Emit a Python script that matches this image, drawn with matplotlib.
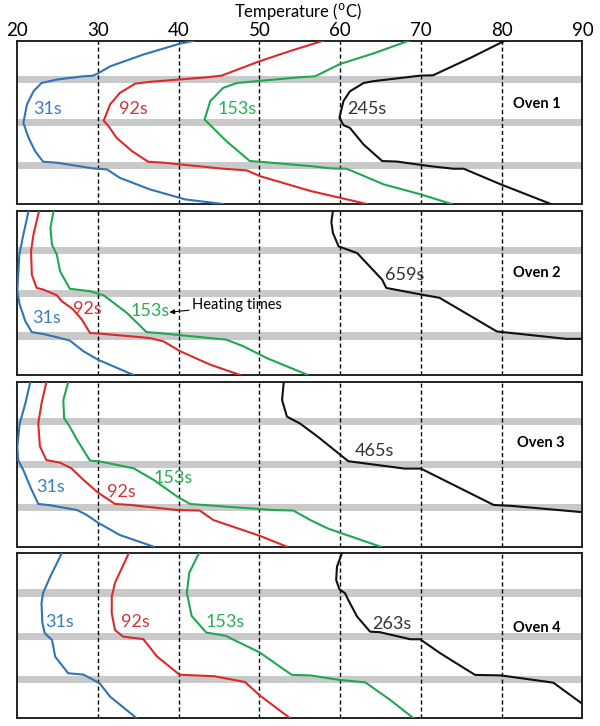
import matplotlib
matplotlib.use('Agg')
import matplotlib.pyplot as plt

plt.rcParams['font.family'] = ['Lato', 'DejaVu Sans']

# --- data: temperature (C) vs normalized depth (0 top .. 100 bottom) ---
TICKS = [20, 30, 40, 50, 60, 70, 80, 90]
BANDS = [24.0, 50.2, 76.3]          # grey layer positions
OVENS = ['Oven 1', 'Oven 2', 'Oven 3', 'Oven 4']

# Oven 1
o1_31_t = [41.9, 40.0, 35.6, 31.5, 30.0, 29.4, 28.0, 24.9, 23.0, 22.0, 21.2, 20.75, 21.4, 22.2, 23.2, 24.9, 29.4, 31.1, 32.7, 36.4, 40.8, 45.5]
o1_31_d = [0, 2, 8.5, 15.7, 20, 21.4, 21.9, 23.8, 25.9, 31, 39, 50.3, 59.5, 67.6, 74.1, 74.7, 78.2, 78.8, 84, 91, 97.2, 100]
o1_92_t = [57.9, 54.0, 50.0, 45.3, 43.5, 36.4, 34.6, 32.7, 31.5, 30.7, 31.3, 32.3, 34.2, 36.2, 38.1, 45.5, 48.4, 50.1, 56.3, 63.3]
o1_92_d = [0, 6, 12.6, 21.4, 22.4, 25.2, 26.3, 32, 39, 49, 52.3, 59.5, 67.6, 74.1, 74.7, 78.4, 79.4, 83, 92, 100]
o1_153_t = [68.5, 64.0, 60.0, 56.9, 54.9, 47.2, 45.5, 43.9, 43.2, 43.9, 45.9, 48.8, 50.5, 56.3, 58.9, 60.8, 65.4, 69.9, 73.8]
o1_153_d = [0, 8, 14.2, 21.8, 22.4, 25.9, 28.9, 37, 48.3, 51.7, 61.5, 73.7, 74.3, 76.8, 78.2, 78.4, 88, 94, 100]
o1_245_t = [80.4, 76.1, 71.5, 69.9, 64.1, 62.9, 61.2, 60.4, 59.9, 60.4, 61.2, 62.9, 65.2, 67.0, 71.1, 74.0, 75.3, 79.9, 86.1]
o1_245_d = [0, 10.6, 21.2, 21.4, 24.8, 25.9, 31, 37, 47.2, 51.7, 53.4, 63.6, 73.7, 74.0, 76.8, 78.4, 78.4, 88, 100]

# Oven 2
o2_31_t = [21.4, 20.75, 20.25, 20.0, 20.3, 21.0, 21.8, 23.2, 25.3, 26.5, 28.2, 30.0, 34.4]
o2_31_d = [0, 14.6, 26.8, 49, 57.2, 67.3, 73.9, 75, 77.5, 79, 85.6, 90.7, 100]
o2_92_t = [22.7, 22.0, 21.7, 21.8, 22.4, 23.2, 24.9, 25.5, 26.9, 28.0, 29.0, 30.7, 36.4, 38.1, 40.2, 43.9, 47.6]
o2_92_d = [0, 14.6, 24.7, 39, 47, 48, 51.5, 55, 60, 66.3, 74.4, 75, 77.5, 79.5, 85.6, 93.7, 100]
o2_153_t = [24.5, 24.1, 24.3, 24.9, 25.3, 26.5, 29.0, 30.7, 33.6, 36.0, 37.6, 45.9, 48.0, 50.9, 56.0]
o2_153_d = [0, 10.5, 20.7, 26.8, 36.9, 47.5, 49, 51.5, 62.3, 73.9, 74.5, 78.5, 82.5, 89.7, 100]
o2_659_t = [59.1, 58.9, 59.1, 59.8, 62.1, 65.2, 65.7, 70.0, 72.3, 79.4, 88.0, 90.0]
o2_659_d = [0, 7, 13.6, 21.7, 25.8, 42, 47, 51, 53, 73.5, 78, 78]

# Oven 3
o3_31_t = [21.6, 21.0, 20.3, 20.0, 20.1, 20.75, 21.6, 22.6, 24.1, 27.4, 28.6, 30.0, 32.7, 36.9]
o3_31_d = [0, 12.8, 25, 39, 47.3, 53.4, 63.5, 74, 74.8, 77.7, 80.7, 85.4, 92.9, 100]
o3_92_t = [23.6, 23.0, 22.6, 22.8, 23.6, 25.3, 26.7, 28.2, 30.0, 32.1, 34.0, 39.8, 42.6, 44.3, 50.1, 53.4]
o3_92_d = [0, 12.8, 25, 39, 47.3, 48.9, 52.3, 59.4, 67.1, 74, 74.6, 77.7, 78, 83.8, 93.5, 100]
o3_153_t = [26.3, 25.7, 25.8, 26.5, 27.4, 29.0, 30.3, 34.4, 36.9, 39.8, 41.4, 45.5, 51.7, 54.2, 56.3, 58.5, 65.0]
o3_153_d = [0, 10.8, 21.9, 27, 35, 47.6, 48.2, 52.3, 59.4, 69.5, 74, 75.5, 77.7, 78, 83.8, 89, 100]
o3_465_t = [53.0, 52.8, 53.4, 55.0, 57.2, 61.0, 68.0, 70.0, 79.0, 81.3, 90.0]
o3_465_d = [0, 10.8, 20.9, 25, 33, 48, 52.5, 52.5, 74.6, 75.2, 79]

# Oven 4
o4_31_t = [25.5, 24.1, 23.2, 23.0, 23.1, 23.4, 24.3, 24.7, 26.3, 28.2, 30.2, 31.5, 34.8]
o4_31_d = [0, 14, 24, 30, 42, 48.5, 52.5, 62.7, 72.7, 73.5, 78.8, 86.9, 100]
o4_92_t = [33.8, 32.1, 31.7, 31.7, 32.1, 33.1, 35.6, 37.3, 40.1, 44.4, 48.2, 50.0, 53.8]
o4_92_d = [0, 18, 26.3, 36.4, 46.5, 50.5, 52, 62.5, 73.6, 74.5, 78, 86, 100]
o4_153_t = [42.5, 41.3, 41.0, 41.6, 43.4, 45.8, 50.0, 54.0, 56.3, 60.0, 63.1, 66.2, 69.1]
o4_153_d = [0, 11.8, 24, 38, 48, 50, 60, 73.7, 74, 76.8, 78.2, 88.9, 100]
o4_263_t = [60.2, 59.6, 59.5, 59.9, 60.6, 61.0, 62.1, 63.7, 64.9, 68.7, 69.9, 72.4, 76.7, 79.9, 86.4, 89.9]
o4_263_d = [0, 8.1, 16.2, 21.8, 24.2, 28.3, 38.4, 47.5, 47.8, 52.1, 52.1, 60.6, 73.7, 74, 78.4, 90.9]

CURVES = [
    [(o1_31_t, o1_31_d), (o1_92_t, o1_92_d), (o1_153_t, o1_153_d), (o1_245_t, o1_245_d)],
    [(o2_31_t, o2_31_d), (o2_92_t, o2_92_d), (o2_153_t, o2_153_d), (o2_659_t, o2_659_d)],
    [(o3_31_t, o3_31_d), (o3_92_t, o3_92_d), (o3_153_t, o3_153_d), (o3_465_t, o3_465_d)],
    [(o4_31_t, o4_31_d), (o4_92_t, o4_92_d), (o4_153_t, o4_153_d), (o4_263_t, o4_263_d)],
]

# heating time labels (text, T, depth)
LABELS = [
    [('31s', 23.7, 42), ('92s', 34.4, 42), ('153s', 47.2, 42), ('245s', 63.3, 42)],
    [('31s', 23.6, 65.3), ('92s', 28.7, 60), ('153s', 36.4, 61), ('659s', 68.0, 39)],
    [('31s', 24.1, 63.5), ('92s', 32.9, 66.5), ('153s', 39.3, 58.5), ('465s', 64.3, 42)],
    [('31s', 25.2, 41.5), ('92s', 34.6, 41.5), ('153s', 45.8, 41.5), ('263s', 66.4, 42.6)],
]
OVEN_POS = [(84.4, 39), (84.4, 38), (84.9, 37), (84.4, 45)]

COLORS = ['#2e75b6', '#dc2a2a', '#1fa84f', '#111111']
TEXT_COLORS = ['#3a7dbd', '#d23434', '#2aae55', '#333333']

# panel geometry (figure pixels, 600x726)
W, H = 600, 726
PANELS = [(40.7, 204.0), (210.7, 375.0), (382.3, 546.7), (553.3, 718.3)]
LEFT, RIGHT = 17.3, 582.4

fig = plt.figure(figsize=(6.0, 7.26), dpi=100)

for i, (top, bot) in enumerate(PANELS):
    ax = fig.add_axes([LEFT / W, 1 - bot / H, (RIGHT - LEFT) / W, (bot - top) / H])
    ax.set_xlim(20, 90)
    ax.set_ylim(100, 0)

    for b in BANDS:
        ax.axhspan(b - 2.2, b + 2.2, color='#c9c9c9', lw=0, zorder=1)
    for t in TICKS[1:-1]:
        ax.axvline(t, color='black', lw=1.0, ls=(0, (3, 2)), zorder=2)

    for (tt, dd), c in zip(CURVES[i], COLORS):
        ax.plot(tt, dd, color=c, lw=1.5, zorder=3, solid_joinstyle='round')

    for (txt, tx, dy), c in zip(LABELS[i], TEXT_COLORS):
        ax.text(tx, dy, txt, color=c, fontsize=13, ha='center', va='center', zorder=4)

    ox, oy = OVEN_POS[i]
    ax.text(ox, oy, OVENS[i], fontsize=10.5, fontweight='bold', ha='center', va='center', zorder=4)

    if i == 1:
        ax.annotate('Heating times', xy=(38.85, 61.8), xytext=(41.6, 57.6),
                    fontsize=10.5, ha='left', va='center', zorder=4,
                    arrowprops=dict(arrowstyle='-|>', color='black', lw=0.8,
                                    mutation_scale=7, shrinkA=0, shrinkB=0))

    ax.set_yticks([])
    for s in ax.spines.values():
        s.set_linewidth(1.4)
        s.set_color('#222222')

    if i == 0:
        ax.xaxis.tick_top()
        ax.set_xticks(TICKS)
        ax.set_xticklabels([str(t) for t in TICKS], fontsize=13.5)
        ax.tick_params(axis='x', length=0, pad=1.5)
    else:
        ax.set_xticks([])

fig.text(0.497, 1 - 11 / H, 'Temperature ($^{\\mathrm{o}}$C)', ha='center', va='center', fontsize=12)

fig.savefig('out.png', dpi=100)
